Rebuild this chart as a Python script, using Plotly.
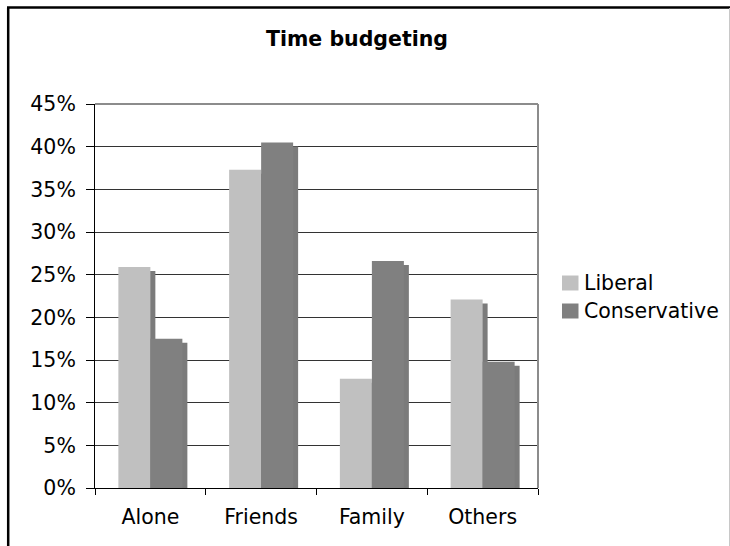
import plotly.graph_objects as go

categories = ["Alone", "Friends", "Family", "Others"]
liberal = [25.9, 37.3, 12.8, 22.1]
conservative = [17.5, 40.5, 26.6, 14.8]
series_names = ["Liberal", "Conservative"]
colors = ["#C0C0C0", "#808080"]
shadow_color = "#7B7B7B"
y_ticks = [0, 5, 10, 15, 20, 25, 30, 35, 40, 45]
y_tick_labels = ["0%", "5%", "10%", "15%", "20%", "25%", "30%", "35%", "40%", "45%"]

W, H = 730, 546
L, R, T, B = 95, 192, 104, 58
pw, ph = W - L - R, H - T - B

def px_x(p):
    return (p - L) / pw

def px_y(p):
    return (H - B - p) / ph

bar_w = 0.289
sh_dx = 0.045
sh_dy = 0.47

fig = go.Figure()
for i, (name, vals) in enumerate(zip(series_names, [liberal, conservative])):
    off = -bar_w if i == 0 else 0.0
    fig.add_trace(go.Bar(
        x=categories, y=[v - sh_dy for v in vals], width=bar_w, offset=off + sh_dx,
        marker=dict(color=shadow_color, line=dict(width=0)), showlegend=False,
        hoverinfo="skip"))
    fig.add_trace(go.Bar(
        x=categories, y=vals, width=bar_w, offset=off, name=name,
        marker=dict(color=colors[i], line=dict(width=0)), showlegend=False))

font_family = "DejaVu Sans"
tick_size = 20.5

fig.update_layout(
    width=W, height=H,
    margin=dict(l=L, r=R, t=T, b=B),
    barmode="overlay",
    paper_bgcolor="white", plot_bgcolor="white",
    font=dict(family=font_family, color="black", size=tick_size),
    showlegend=False,
)

fig.update_xaxes(
    type="category", range=[-0.5, 3.5],
    showline=True, linecolor="black", linewidth=1,
    ticks="outside", ticklen=6, tickcolor="black", tickwidth=1,
    tickson="boundaries", showgrid=False, zeroline=False,
    tickfont=dict(size=tick_size, family=font_family), ticklabelstandoff=10,
)
fig.update_yaxes(
    range=[0, 45], tickmode="array", tickvals=y_ticks, ticktext=y_tick_labels,
    showline=True, linecolor="black", linewidth=1,
    ticks="outside", ticklen=8, tickcolor="black", tickwidth=1,
    showgrid=True, gridcolor="#333333", gridwidth=1, zeroline=False,
    tickfont=dict(size=tick_size, family=font_family), ticklabelstandoff=6,
)

shapes = []
shapes.append(dict(type="line", xref="paper", yref="paper", x0=0, x1=1, y0=1, y1=1,
                   line=dict(color="#8C8C8C", width=2), layer="above"))
shapes.append(dict(type="line", xref="paper", yref="paper", x0=1, x1=1, y0=0, y1=1,
                   line=dict(color="#8C8C8C", width=2), layer="above"))
shapes.append(dict(type="line", xref="paper", yref="paper", x0=px_x(8.2), x1=px_x(8.2),
                   y0=px_y(7.5), y1=px_y(560), line=dict(color="black", width=2.5)))
shapes.append(dict(type="line", xref="paper", yref="paper", x0=px_x(7), x1=px_x(740),
                   y0=px_y(7.5), y1=px_y(7.5), line=dict(color="black", width=2.5)))
shapes.append(dict(type="line", xref="paper", yref="paper", x0=px_x(729.5), x1=px_x(729.5),
                   y0=px_y(8), y1=px_y(560), line=dict(color="#C8C8C8", width=1)))

legend_rows = [283, 311]
annotations = []
for name, col, yc in zip(series_names, colors, legend_rows):
    shapes.append(dict(type="rect", xref="paper", yref="paper",
                       x0=px_x(562), x1=px_x(578.5), y0=px_y(yc - 7.5), y1=px_y(yc + 7.5),
                       fillcolor=col, line=dict(width=0)))
    annotations.append(dict(text=name, xref="paper", yref="paper", x=px_x(582), y=px_y(yc),
                            xanchor="left", yanchor="middle", showarrow=False,
                            font=dict(size=20.5, family=font_family, color="black")))

annotations.append(dict(text="<b>Time budgeting</b>", xref="paper", yref="paper",
                        x=px_x(357), y=px_y(39), xanchor="center", yanchor="middle",
                        showarrow=False, font=dict(size=20.5, family=font_family, color="black")))

fig.update_layout(shapes=shapes, annotations=annotations)

fig.write_html("out.html")
